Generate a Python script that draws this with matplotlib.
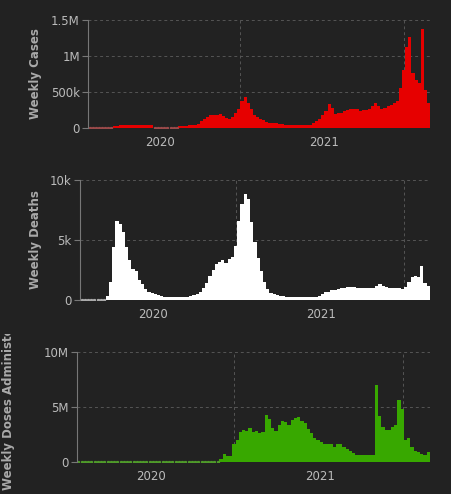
import matplotlib
matplotlib.use("Agg")
import matplotlib.pyplot as plt
import numpy as np
from matplotlib.transforms import Bbox

cases = [0]*8 + [30,30,40,40,40,40,40,40,40,35,35,35,35] + [0]*8 + \
    [30,30,30,35,35,40,60,90,120,150,175,185,175,195,165,135,130,150,210,270,
     380,430,340,260,180,150,120,105,85,70,65,65,60,50,40,35,35,35,35,35,
     35,40,45,70,90,120,180,240,330,280,200,210,210,240,255,265,265,260,230,250,
     250,265,310,340,310,270,280,310,320,340,380,560,800,1130,1270,770,670,620,1370,530,340]
deaths = [0]*8 + [300,1500,4400,6600,6300,5700,4400,3300,2600,2400,1700,1300,900,700,600,500,400,300,250,250,
    250,250,250,250,250,250,300,400,500,700,1000,1400,2000,2500,3000,3200,3300,3100,3400,3600,
    4500,6600,8000,8800,8400,6500,4800,3500,2400,1500,900,600,500,450,350,300,250,250,250,250,
    250,250,250,250,250,250,300,500,700,700,800,800,900,1000,1000,1100,1100,1100,1000,1000,1000,1000,1000,1000,1200,1300,
    1200,1100,1000,1000,1000,1000,900,1100,1500,1900,2000,1900,2800,1400,1200]
doses = [0]*44 + [0.3,0.7,0.5,0.5,1.6,2.0,2.7,2.9,2.8,3.1,2.7,2.8,2.6,2.7,4.3,3.9,3.1,2.8,3.4,3.7,
    3.6,3.4,3.8,4.0,4.1,3.7,3.5,3.0,2.6,2.2,2.0,1.8,1.6,1.6,1.6,1.4,1.6,1.6,1.4,1.2,
    1.0,0.8,0.6,0.6,0.6,0.6,0.6,0.6,7.0,4.2,3.2,2.9,2.9,3.2,3.4,5.6,4.8,2.0,2.2,1.4,1.0,0.9,0.7,0.6,0.9]
year_labels = ["2020", "2021"]

BG = "#222222"
fig = plt.figure(figsize=(4.52, 4.94), dpi=100, facecolor=BG)

panels = [
    (np.array(cases)*1e3, [0.195, 0.741, 0.7566, 0.2186], "#e60000", "#9a4a4a", 1.5e6,
     [0, 5e5, 1e6, 1.5e6], ["0", "500k", "1M", "1.5M"], "Weekly Cases"),
    (np.array(deaths, float), [0.177, 0.3927, 0.774, 0.243], "#ffffff", "#aaaaaa", 1e4,
     [0, 5e3, 1e4], ["0", "5k", "10k"], "Weekly Deaths"),
    (np.array(doses)*1e6, [0.170, 0.0648, 0.781, 0.2227], "#38a800", "#4f9a2a", 1e7,
     [0, 5e6, 1e7], ["0", "5M", "10M"], "Weekly Doses Administered"),
]

for vals, pos, col, dotcol, ymax, yt, ytl, lab in panels:
    ax = fig.add_axes(pos, facecolor=BG)
    n = len(vals)
    x = np.arange(n)
    ax.bar(x, vals, width=1.0, color=col, linewidth=0)
    z = x[vals == 0]
    ax.plot(z, np.zeros_like(z), ls="none", marker="s", ms=1.3, color=dotcol)
    ax.set_xlim(-0.5, n - 0.5)
    ax.set_ylim(0, ymax)
    span = n
    grid_pos = [-0.5 + span*0.445, -0.5 + span*0.925]
    lab_pos = [-0.5 + span*0.21, -0.5 + span*0.69]
    for g in grid_pos:
        ax.axvline(g, color="#555555", ls=(0, (3, 3)), lw=0.7, zorder=0)
    for t in yt[1:]:
        ax.axhline(t, color="#555555", ls=(0, (3, 3)), lw=0.7, zorder=0)
    ax.axhline(0, color="#888888", lw=0.8, zorder=0.5)
    ax.set_xticks(lab_pos)
    ax.set_xticklabels(year_labels)
    ax.set_yticks(yt)
    ax.set_yticklabels(ytl)
    ax.tick_params(axis="x", length=0, colors="#bbbbbb", labelsize=8.5, pad=6)
    ax.tick_params(axis="y", length=4, color="#777777", colors="#bbbbbb", labelsize=8.5, pad=2)
    for s in ["top", "right", "bottom"]:
        ax.spines[s].set_visible(False)
    ax.spines["left"].set_color("#777777")
    t = ax.set_ylabel(lab, color="#aaaaaa", fontsize=8.5, fontweight="bold", labelpad=6)
    if lab.startswith("Weekly Doses"):
        ax.yaxis.set_label_coords(-0.175, -0.255)
        t.set_ha("left")
        t.set_clip_on(True)
        t.set_clip_box(Bbox.from_extents(0, 0, 452, 494 - 334))

fig.savefig("out.png", dpi=100, facecolor=BG)
